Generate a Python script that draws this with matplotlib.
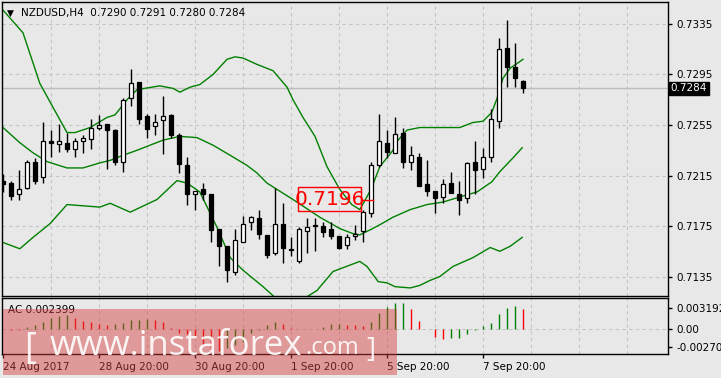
import matplotlib.pyplot as plt
from matplotlib.patches import Rectangle

# NZDUSD H4 candles (index 0 = first visible bar)
opens = [0.7211, 0.7209, 0.7200, 0.7205, 0.7226, 0.7214, 0.7242, 0.7240, 0.7241, 0.7236,
         0.7242, 0.7244, 0.7253, 0.7256, 0.7251, 0.7226, 0.7276, 0.7289, 0.7262, 0.7254,
         0.7259, 0.7263, 0.7247, 0.7223, 0.7200, 0.7204, 0.7200, 0.7173, 0.7159, 0.7139,
         0.7162, 0.7178, 0.7181, 0.7168, 0.7154, 0.7177, 0.7157, 0.7147, 0.7171, 0.7175,
         0.7175, 0.7173, 0.7167, 0.7160, 0.7167, 0.7171, 0.7185, 0.7223, 0.7241, 0.7233,
         0.7249, 0.7226, 0.7230, 0.7208, 0.7203, 0.7198, 0.7209, 0.7200, 0.7197, 0.7226,
         0.7220, 0.7230, 0.7258, 0.7316, 0.7301, 0.7290]
highs = [0.7216, 0.7211, 0.7219, 0.7227, 0.7229, 0.7257, 0.7251, 0.7256, 0.7249, 0.7245,
         0.7247, 0.7260, 0.7263, 0.7256, 0.7252, 0.7276, 0.7299, 0.7289, 0.7264, 0.7264,
         0.7278, 0.7264, 0.7249, 0.7230, 0.7203, 0.7209, 0.7200, 0.7173, 0.7159, 0.7173,
         0.7183, 0.7183, 0.7188, 0.7168, 0.7205, 0.7193, 0.7166, 0.7174, 0.7181, 0.7181,
         0.7178, 0.7178, 0.7167, 0.7169, 0.7176, 0.7188, 0.7226, 0.7264, 0.7251, 0.7261,
         0.7253, 0.7238, 0.7233, 0.7227, 0.7203, 0.7212, 0.7218, 0.7211, 0.7226, 0.7242,
         0.7237, 0.7268, 0.7324, 0.7338, 0.7320, 0.7291]
lows = [0.7202, 0.7196, 0.7196, 0.7204, 0.7208, 0.7209, 0.7230, 0.7234, 0.7234, 0.7230,
        0.7233, 0.7236, 0.7251, 0.7220, 0.7223, 0.7218, 0.7270, 0.7256, 0.7245, 0.7247,
        0.7232, 0.7245, 0.7217, 0.7192, 0.7188, 0.7196, 0.7162, 0.7143, 0.7131, 0.7136,
        0.7162, 0.7172, 0.7165, 0.7150, 0.7152, 0.7146, 0.7151, 0.7146, 0.7154, 0.7155,
        0.7166, 0.7165, 0.7157, 0.7157, 0.7164, 0.7162, 0.7182, 0.7222, 0.7229, 0.7233,
        0.7221, 0.7219, 0.7207, 0.7199, 0.7185, 0.7193, 0.7201, 0.7184, 0.7193, 0.7200,
        0.7213, 0.7226, 0.7253, 0.7285, 0.7285, 0.7280]
closes = [0.7208, 0.7199, 0.7204, 0.7226, 0.7211, 0.7242, 0.7241, 0.7242, 0.7236, 0.7242,
          0.7245, 0.7253, 0.7255, 0.7251, 0.7226, 0.7275, 0.7288, 0.7260, 0.7252, 0.7257,
          0.7262, 0.7247, 0.7224, 0.7200, 0.7203, 0.7200, 0.7172, 0.7159, 0.7140, 0.7164,
          0.7177, 0.7182, 0.7169, 0.7152, 0.7177, 0.7158, 0.7156, 0.7173, 0.7174, 0.7176,
          0.7170, 0.7167, 0.7158, 0.7166, 0.7169, 0.7186, 0.7223, 0.7242, 0.7234, 0.7248,
          0.7226, 0.7231, 0.7207, 0.7203, 0.7197, 0.7208, 0.7201, 0.7196, 0.7225, 0.7219,
          0.7230, 0.7260, 0.7315, 0.7301, 0.7292, 0.7284]

# Bollinger bands (bar index, price)
upper_x = [0, 2.5, 4.6, 6.25, 8, 9, 10.9, 13, 14, 15.5, 16.75, 19.6, 21.25, 22.1, 23.4, 24.6,
           26.25, 28, 29, 30, 31.75, 33.75, 35.5, 36.25, 37.5, 39, 40.5, 42.1, 43.6, 44.6,
           46, 47.1, 48.75, 49.25, 50.5, 52.1, 54.6, 57.1, 58.75, 60, 61.1, 61.75, 62.5, 63.4, 65]
upper_y = [0.7346, 0.7328, 0.7288, 0.7269, 0.7249, 0.7249, 0.7253, 0.7261, 0.7263, 0.7275,
           0.7283, 0.7286, 0.7284, 0.7281, 0.7285, 0.7287, 0.7295, 0.7307, 0.7309, 0.7308,
           0.7303, 0.7298, 0.7285, 0.7275, 0.7261, 0.7246, 0.7222, 0.7204, 0.7192, 0.7188,
           0.7204, 0.7222, 0.7235, 0.7242, 0.7251, 0.7253, 0.7253, 0.7253, 0.7257, 0.7258,
           0.7265, 0.7276, 0.7292, 0.7300, 0.7307]
mid_x = [0, 2.1, 3.75, 5.5, 8, 10, 12.1, 13.4, 15, 16.75, 20, 22.1, 24.25, 26.25, 28.4, 30.5,
         31.75, 33, 36.25, 39.6, 42.1, 43.75, 44.6, 45.9, 47.1, 48.75, 50.9, 53, 55, 57.1,
         59.25, 61.1, 62.1, 63.75, 64.9]
mid_y = [0.7253, 0.7241, 0.7233, 0.7226, 0.7221, 0.7221, 0.7225, 0.7227, 0.7231, 0.7235,
         0.7243, 0.7246, 0.7245, 0.7239, 0.7231, 0.7223, 0.7217, 0.7209, 0.7196, 0.7182,
         0.7173, 0.7169, 0.7168, 0.7172, 0.7176, 0.7182, 0.7188, 0.7192, 0.7194, 0.7198,
         0.7202, 0.7210, 0.7218, 0.7229, 0.7237]
lower_x = [0, 2.1, 3.75, 5.9, 8, 12.1, 13.4, 15.9, 19.25, 21.75, 23, 24.6, 26.75, 28.4, 30,
           32.5, 34.25, 36.1, 38, 39.25, 41.25, 44.6, 45.5, 46.9, 48, 49, 50.9, 52.1, 53.4,
           54.6, 56.25, 58.75, 60.9, 62.1, 63.4, 64.9]
lower_y = [0.7162, 0.7157, 0.7166, 0.7177, 0.7192, 0.7190, 0.7193, 0.7186, 0.7196, 0.7211,
           0.7209, 0.7202, 0.7174, 0.7150, 0.7140, 0.7127, 0.7117, 0.7114, 0.7119, 0.7124,
           0.7139, 0.7147, 0.7143, 0.7131, 0.7130, 0.7127, 0.7126, 0.7128, 0.7132, 0.7135,
           0.7143, 0.7150, 0.7158, 0.7155, 0.7159, 0.7166]

# Accelerator oscillator
ac = [-0.00002, -0.00005, -0.00006, 0.00024, 0.00052, 0.00084, 0.00132, 0.00164, 0.00172, 0.00132,
      0.00100, 0.00084, 0.00060, 0.00052, 0.00060, 0.00072, 0.00108, 0.00112, 0.00124, 0.00112,
      0.00092, 0.00020, -0.00048, -0.00060, -0.00088, -0.00188, -0.00236, -0.00260, -0.00228, -0.00188,
      -0.00148, -0.00048, -0.00008, 0.00052, 0.00084, 0.00064, 0.00012, 0.00004, 0.00002, 0.00006,
      0.00028, 0.00060, 0.00064, 0.00052, 0.00048, 0.00040, 0.00092, 0.00192, 0.00264, 0.00310,
      0.003192, 0.00240, 0.00100, 0.00002, -0.00096, -0.00116, -0.00108, -0.00100, -0.00052, -0.00008,
      0.00040, 0.00076, 0.00180, 0.00252, 0.00276, 0.002399]

price_ticks = [0.7135, 0.7175, 0.7215, 0.7255, 0.7295, 0.7335]
date_ticks = [0, 12, 24, 36, 48, 60]
date_labels = ["24 Aug 2017", "28 Aug 20:00", "30 Aug 20:00", "1 Sep 20:00", "5 Sep 20:00", "7 Sep 20:00"]
last_price = 0.7284
marked_price = 0.7196

bg = "#e8e8e8"
gridc = "#c4c4c4"
W, H = 721, 378

fig = plt.figure(figsize=(7.21, 3.78), dpi=100, facecolor=bg)
ax = fig.add_axes([2 / W, (H - 296) / H, 666 / W, 294 / H], facecolor=bg)
ax2 = fig.add_axes([2 / W, (H - 354) / H, 666 / W, 56 / H], facecolor=bg)

n = len(closes)
idx = list(range(n))

for a in (ax, ax2):
    a.set_xlim(-0.125, 83.125)
    for k in range(6, 84, 6):
        a.axvline(k, color=gridc, lw=0.8, ls=(0, (3, 3)), zorder=0)
    for s in a.spines.values():
        s.set_color("black")
        s.set_linewidth(1)

# price panel
ax.set_ylim(0.71196, 0.73524)
for p in price_ticks:
    ax.axhline(p, color=gridc, lw=0.8, ls=(0, (3, 3)), zorder=0)
ax.axhline(last_price, color="#bdbdbd", lw=1, zorder=0)

ax.plot(upper_x, upper_y, color="#008000", lw=1, zorder=2)
ax.plot(mid_x, mid_y, color="#008000", lw=1, zorder=2)
ax.plot(lower_x, lower_y, color="#008000", lw=1, zorder=2)

ax.vlines(idx, lows, highs, color="black", lw=1, zorder=3)
bottoms = [min(o, c) for o, c in zip(opens, closes)]
heights = [max(abs(c - o), 0.00004) for o, c in zip(opens, closes)]
faces = ["white" if c >= o else "black" for o, c in zip(opens, closes)]
ax.bar(idx, heights, bottom=bottoms, width=0.6, color=faces, edgecolor="black", lw=0.9, zorder=4)

ax.yaxis.tick_right()
ax.set_yticks(price_ticks)
ax.set_yticklabels([f"{p:.4f}" for p in price_ticks])
ax.tick_params(axis="y", length=3, width=1, pad=3, labelsize=7.5, colors="black")
ax.set_xticks([])

# price label on the right
ax.text(1.004, last_price, f"{last_price:.4f}", transform=ax.get_yaxis_transform(),
        color="white", fontsize=7.5, va="center", ha="left",
        bbox=dict(boxstyle="square,pad=0.15", fc="black", ec="black"))

# red marker
ax.add_patch(Rectangle((36.9, 0.71870), 7.85, 0.0019, fill=False, ec="red", lw=1, zorder=5))
ax.text(40.8, marked_price, f"{marked_price:.4f}", color="red", fontsize=14.5,
        ha="center", va="center", zorder=6)
ax.plot([44.75, 46.2], [marked_price, marked_price], color="red", lw=1, zorder=5)

fig.text(7 / W, 1 - 13 / H, "\u25bc", fontsize=6.5, va="center", ha="left")
fig.text(21 / W, 1 - 13 / H, "NZDUSD,H4  0.7290 0.7291 0.7280 0.7284", fontsize=7.5,
         va="center", ha="left")

# AC panel
ax2.set_ylim(-0.002964, 0.003756)
ax2.axhline(0, color=gridc, lw=0.8, ls=(0, (3, 3)), zorder=0)
prev = [ac[0] + 1] + ac[:-1]
ac_cols = ["#008000" if v > p else "#ff0000" for v, p in zip(ac, prev)]
ax2.vlines(idx, 0, ac, colors=ac_cols, lw=1, zorder=2)
ax2.yaxis.tick_right()
ax2.set_yticks([0.002556, 0, -0.00216])
ax2.set_yticklabels(["0.003192", "0.00", "-0.00270"])
ax2.tick_params(axis="y", length=3, width=1, pad=3, labelsize=7.5)
ax2.set_xticks(date_ticks)
ax2.set_xticklabels(date_labels, ha="left")
ax2.tick_params(axis="x", length=3, width=1, pad=3, labelsize=7.5)
ax2.text(0.009, 0.78, "AC 0.002399", transform=ax2.transAxes, fontsize=7.5, va="center")

# watermark
fig.patches.append(Rectangle((3 / W, 3 / H), 394 / W, 66 / H, transform=fig.transFigure,
                             fc=(0.84, 0.24, 0.24), alpha=0.46, ec="none", zorder=10))
wm = dict(color="white", alpha=0.9, family="Open Sans", zorder=11, va="baseline", ha="left")
fig.text(24 / W, (H - 358) / H, "[", fontsize=26, **wm)
fig.text(50 / W, (H - 355) / H, "www.instaforex", fontsize=25, **wm)
fig.text(305 / W, (H - 354) / H, ".com", fontsize=17, **wm)
fig.text(366 / W, (H - 357) / H, "]", fontsize=20, **wm)

fig.savefig("out.png", dpi=100, facecolor=bg)
